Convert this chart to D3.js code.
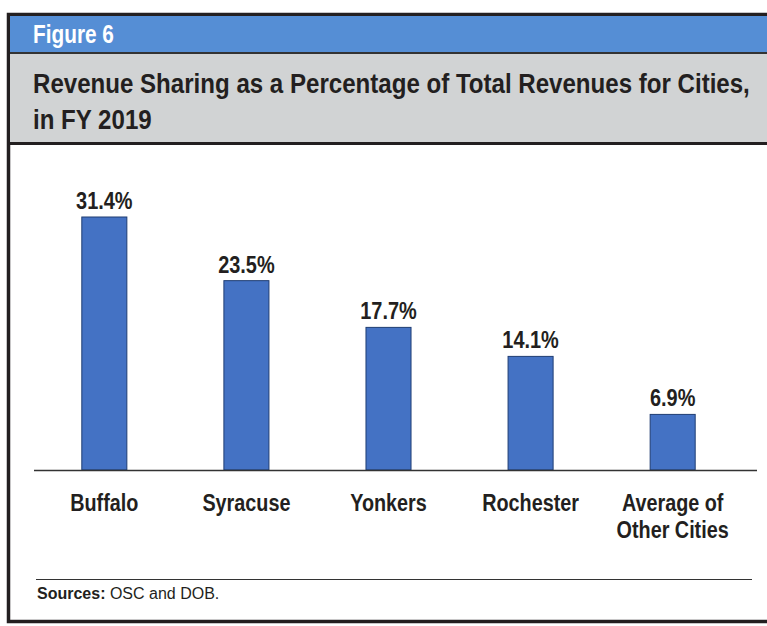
<!DOCTYPE html>
<html lang="en">
<head>
    <meta charset="UTF-8">
    <title>Figure 6 - Revenue Sharing</title>
    <script src="https://d3js.org/d3.v7.min.js"></script>
    <style>
        body { margin: 0; background: #fff; }
        svg text { font-family: "Liberation Sans", Arial, Helvetica, sans-serif; }
    </style>
</head>
<body>
    <svg id="chart"></svg>

    <script>
        // Chart data
        const cities = ["Buffalo", "Syracuse", "Yonkers", "Rochester", "Average of|Other Cities"];
        const shares = [31.4, 23.5, 17.7, 14.1, 6.9];
        const valueLabels = ["31.4%", "23.5%", "17.7%", "14.1%", "6.9%"];

        const width = 767;
        const height = 626;

        // squeeze text horizontally to fake a condensed face (no narrow font installed)
        function condense(sel, k) {
            sel.each(function() {
                const len = this.getComputedTextLength();
                d3.select(this)
                    .attr("textLength", len * k)
                    .attr("lengthAdjust", "spacingAndGlyphs");
            });
        }

        const svg = d3.select("#chart")
            .attr("width", width)
            .attr("height", height);

        // Frame and header bands
        svg.append("rect")
            .attr("x", 8.5).attr("y", 14.5)
            .attr("width", 780).attr("height", 607)
            .attr("fill", "#fff")
            .attr("stroke", "#231f20").attr("stroke-width", 3.5);

        svg.append("rect")
            .attr("x", 10).attr("y", 16)
            .attr("width", 760).attr("height", 36)
            .attr("fill", "#558ed5");

        svg.append("rect")
            .attr("x", 10).attr("y", 54)
            .attr("width", 760).attr("height", 88)
            .attr("fill", "#d1d3d4");

        svg.append("line")
            .attr("x1", 10).attr("x2", 767)
            .attr("y1", 53).attr("y2", 53)
            .attr("stroke", "#333").attr("stroke-width", 2);

        svg.append("line")
            .attr("x1", 10).attr("x2", 767)
            .attr("y1", 143.5).attr("y2", 143.5)
            .attr("stroke", "#231f20").attr("stroke-width", 3);

        const fig = svg.append("text")
            .attr("x", 33).attr("y", 43)
            .attr("fill", "#fff")
            .attr("font-size", 26).attr("font-weight", "bold")
            .text("Figure 6");
        condense(fig, 0.8);

        // title squeezed with a transform so line 1 ends near x = 750
        const title = svg.append("text")
            .attr("fill", "#231f20")
            .attr("font-size", 27).attr("font-weight", "bold");
        const t1 = title.append("tspan").attr("x", 33).attr("y", 93)
            .text("Revenue Sharing as a Percentage of Total Revenues for Cities,");
        title.append("tspan").attr("x", 33).attr("y", 129)
            .text("in FY 2019");
        const tk = 717 / t1.node().getComputedTextLength();
        title.attr("transform", `translate(33,0) scale(${tk},1) translate(-33,0)`);

        // Scales
        const x = d3.scaleBand()
            .domain(cities)
            .range([33.5, 743.5])
            .paddingInner(0.683)
            .paddingOuter(0.34);

        const y = d3.scaleLinear()
            .domain([0, 31.4])
            .range([470, 217]);

        // Bars
        svg.selectAll(".bar")
            .data(shares)
            .enter()
            .append("rect")
            .attr("class", "bar")
            .attr("x", (d, i) => x(cities[i]))
            .attr("width", x.bandwidth())
            .attr("y", d => y(d))
            .attr("height", d => y(0) - y(d))
            .attr("fill", "#4472c4")
            .attr("stroke", "#1f3d73")
            .attr("stroke-width", 1);

        // Value labels
        const vals = svg.selectAll(".value")
            .data(shares)
            .enter()
            .append("text")
            .attr("class", "value")
            .attr("x", (d, i) => x(cities[i]) + x.bandwidth() / 2)
            .attr("y", d => y(d) - 8)
            .attr("text-anchor", "middle")
            .attr("font-size", 24).attr("font-weight", "bold")
            .attr("fill", "#231f20")
            .text((d, i) => valueLabels[i]);
        condense(vals, 0.83);

        // Baseline axis
        svg.append("line")
            .attr("x1", 34).attr("x2", 757)
            .attr("y1", y(0) + 0.5).attr("y2", y(0) + 0.5)
            .attr("stroke", "#333").attr("stroke-width", 1.5);

        // Category labels
        const cat = svg.selectAll(".cat")
            .data(cities)
            .enter()
            .append("text")
            .attr("class", "cat")
            .attr("text-anchor", "middle")
            .attr("font-size", 23).attr("font-weight", "bold")
            .attr("fill", "#231f20");
        cat.each(function(d) {
            const cx = x(d) + x.bandwidth() / 2;
            d.split("|").forEach((line, j) => {
                d3.select(this).append("tspan")
                    .attr("x", cx)
                    .attr("y", 511 + j * 27)
                    .text(line);
            });
        });
        condense(cat.selectAll("tspan"), 0.86);

        // Sources note
        svg.append("line")
            .attr("x1", 36).attr("x2", 752)
            .attr("y1", 579.5).attr("y2", 579.5)
            .attr("stroke", "#333").attr("stroke-width", 1);

        const src = svg.append("text")
            .attr("x", 37).attr("y", 599)
            .attr("font-size", 16)
            .attr("fill", "#231f20");
        src.append("tspan").attr("font-weight", "bold").text("Sources:");
        src.append("tspan").text(" OSC and DOB.");
    </script>
</body>
</html>
